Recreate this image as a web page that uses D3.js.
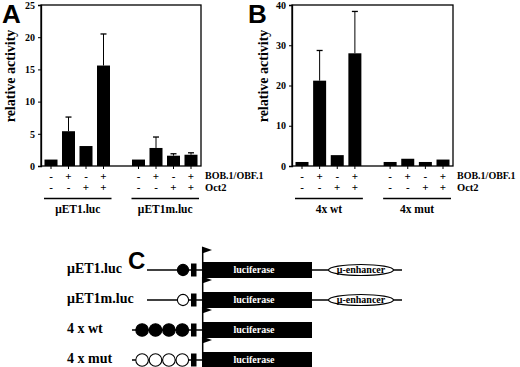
<!DOCTYPE html>
<html>
<head>
<meta charset="utf-8">
<script src="https://cdn.jsdelivr.net/npm/d3@7"></script>
<style>
  body { margin: 0; background: #fff; }
  svg text { font-family: "Liberation Serif", "DejaVu Serif", "Times New Roman", serif; font-weight: bold; }
</style>
</head>
<body>
<svg width="520" height="367"></svg>
<script>
// data
let bob = ["-", "+", "-", "+"];
let oct2 = ["-", "-", "+", "+"];

let groupsA = ["\u03BCET1.luc", "\u03BCET1m.luc"];
let valuesA = [[1.0, 5.4, 3.1, 15.6], [1.0, 2.8, 1.6, 1.75]];
let errorsA = [[null, 7.6, null, 20.5], [null, 4.5, 1.9, 2.05]];
let ticksA = [0, 5, 10, 15, 20, 25];

let groupsB = ["4x wt", "4x mut"];
let valuesB = [[1.0, 21.2, 2.7, 28.0], [1.0, 1.8, 1.0, 1.6]];
let errorsB = [[null, 28.7, null, 38.4], [null, null, null, null]];
let ticksB = [0, 10, 20, 30, 40];

let constructs = ["\u03BCET1.luc", "\u03BCET1m.luc", "4 x wt", "4 x mut"];
let siteCount = [1, 1, 4, 4];
let siteFilled = [true, false, true, false];
let hasEnhancer = [true, true, false, false];

var svg = d3.select("svg");
var serif = "'Liberation Serif', 'DejaVu Serif', serif";
var sans = "'Liberation Sans', Arial, sans-serif";

function panel(opt) {
    var g = svg.append("g");
    var y = d3.scaleLinear().domain([0, opt.max]).range([166, 5]);
    var x = d3.scalePoint().domain(d3.range(9)).range(opt.xr);
    var left = opt.frame[0], right = opt.frame[1];

    // frame
    g.append("rect")
        .attr("x", left).attr("y", y(opt.max))
        .attr("width", right - left).attr("height", y(0) - y(opt.max))
        .attr("fill", "none").attr("stroke", "#000").attr("stroke-width", 1.3);

    // y axis
    var yAxis = d3.axisLeft(y).tickValues(opt.ticks).tickSize(3).tickPadding(3);
    var ya = g.append("g").attr("transform", "translate(" + left + ",0)").call(yAxis);
    ya.select(".domain").attr("stroke-width", 1.3);
    ya.selectAll("text").style("font-size", "10px")
        .style("font-family", serif).style("font-weight", "bold");

    g.append("text")
        .attr("transform", "translate(" + opt.labelX + ",76) rotate(-90)")
        .attr("text-anchor", "middle")
        .attr("dominant-baseline", "middle")
        .style("font-family", serif)
        .style("font-size", "14px")
        .text("relative activity");

    g.append("text")
        .attr("x", opt.letterX).attr("y", 23)
        .style("font-family", sans)
        .style("font-size", "26px")
        .text(opt.letter);

    opt.values.forEach(function(vals, gi) {
        vals.forEach(function(v, i) {
            var slot = gi * 5 + i;
            var cx = x(slot);
            var err = opt.errors[gi][i];
            if (err != null) {
                g.append("line")
                    .attr("x1", cx).attr("x2", cx)
                    .attr("y1", y(v)).attr("y2", y(err))
                    .attr("stroke", "#000").attr("stroke-width", 1);
                g.append("line")
                    .attr("x1", cx - 3).attr("x2", cx + 3)
                    .attr("y1", y(err)).attr("y2", y(err))
                    .attr("stroke", "#000").attr("stroke-width", 1.3);
            }
            g.append("rect")
                .attr("x", cx - 6.5).attr("width", 13)
                .attr("y", y(v)).attr("height", y(0) - y(v))
                .attr("fill", "#000");
            // bottom tick
            g.append("line")
                .attr("x1", cx).attr("x2", cx)
                .attr("y1", y(0)).attr("y2", y(0) + 3)
                .attr("stroke", "#000");
            g.append("text").attr("x", cx).attr("y", 177)
                .attr("text-anchor", "middle").attr("dominant-baseline", "middle")
                .style("font-family", serif).style("font-size", "11px").text(bob[i]);
            g.append("text").attr("x", cx).attr("y", 188)
                .attr("text-anchor", "middle").attr("dominant-baseline", "middle")
                .style("font-family", serif).style("font-size", "11px").text(oct2[i]);
        });
        var x0 = x(gi * 5) - 7, x1 = x(gi * 5 + 3) + 8;
        g.append("line")
            .attr("x1", x0).attr("x2", x1).attr("y1", 198.5).attr("y2", 198.5)
            .attr("stroke", "#000").attr("stroke-width", 1.3);
        g.append("text").attr("x", (x0 + x1) / 2).attr("y", 210)
            .attr("text-anchor", "middle").attr("dominant-baseline", "middle")
            .style("font-family", serif).style("font-size", "11.5px").text(opt.groups[gi]);
    });

    g.append("text").attr("x", right + 4).attr("y", 177)
        .attr("dominant-baseline", "middle")
        .style("font-family", serif).style("font-size", "10px").text("BOB.1/OBF.1");
    g.append("text").attr("x", right + 4).attr("y", 188.5)
        .attr("dominant-baseline", "middle")
        .style("font-family", serif).style("font-size", "10.5px").text("Oct2");
}

panel({ letter: "A", letterX: 2, labelX: 12, max: 25, ticks: ticksA, frame: [41, 201], xr: [51, 191],
        values: valuesA, errors: errorsA, groups: groupsA });
panel({ letter: "B", letterX: 248, labelX: 265, max: 40, ticks: ticksB, frame: [292, 453], xr: [302, 443],
        values: valuesB, errors: errorsB, groups: groupsB });

// panel C: construct diagrams
var c = svg.append("g");
c.append("text").attr("x", 128).attr("y", 269)
    .style("font-family", sans)
    .style("font-size", "24px").text("C");

var rowY = d3.scalePoint().domain(constructs).range([270, 360]);

constructs.forEach(function(name, i) {
    var cy = rowY(name);
    var n = siteCount[i];
    var r = n == 1 ? 6 : 6.7;
    var lineStart = n == 1 ? 147 : 132;
    var lineEnd = hasEnhancer[i] ? 402 : 202;

    c.append("text").attr("x", 67).attr("y", cy)
        .attr("dominant-baseline", "middle")
        .style("font-family", serif).style("font-size", "14px").text(name);

    c.append("line").attr("x1", lineStart).attr("x2", lineEnd)
        .attr("y1", cy).attr("y2", cy).attr("stroke", "#000").attr("stroke-width", 1.3);

    var sites = d3.range(n).map(function(k) { return 189 - r - k * 2 * r; });
    c.selectAll(null).data(sites).enter().append("circle")
        .attr("cx", function(d) { return d; }).attr("cy", cy).attr("r", r - 0.4)
        .attr("fill", siteFilled[i] ? "#000" : "#fff")
        .attr("stroke", "#000").attr("stroke-width", 1.1);

    // TATA box
    c.append("rect").attr("x", 191).attr("y", cy - 6.5).attr("width", 5.5).attr("height", 13).attr("fill", "#000");

    // start arrow
    c.append("line").attr("x1", 202.7).attr("x2", 202.7).attr("y1", cy - 23).attr("y2", cy)
        .attr("stroke", "#000").attr("stroke-width", 1.5);
    c.append("path").attr("d", "M202," + (cy - 23.5) + "L212," + (cy - 20) + "L202," + (cy - 16.5) + "Z").attr("fill", "#000");

    // luciferase
    c.append("rect").attr("x", 202).attr("y", cy - 8).attr("width", 110).attr("height", 16).attr("fill", "#000");
    c.append("text").attr("x", 254).attr("y", cy + 0.5)
        .attr("text-anchor", "middle").attr("dominant-baseline", "middle")
        .attr("fill", "#fff").style("font-family", serif).style("font-size", "10px").text("luciferase");

    if (hasEnhancer[i]) {
        c.append("ellipse").attr("cx", 361).attr("cy", cy).attr("rx", 32.5).attr("ry", 5.5)
            .attr("fill", "#fff").attr("stroke", "#000").attr("stroke-width", 1.2);
        c.append("text").attr("x", 361).attr("y", cy + 0.5)
            .attr("text-anchor", "middle").attr("dominant-baseline", "middle")
            .style("font-family", serif).style("font-size", "10px").text("\u03BC-enhancer");
    }
});
</script>
</body>
</html>
